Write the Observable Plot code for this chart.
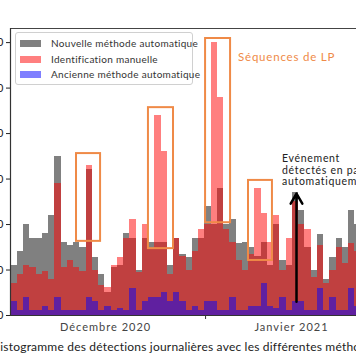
<!DOCTYPE html>
<html><head><meta charset="utf-8">
<script src="https://cdn.jsdelivr.net/npm/d3@7"></script>
<script src="https://cdn.jsdelivr.net/npm/@observablehq/plot@0.6"></script>
<style>
body{margin:0;background:#fff;}
#wrap{position:relative;width:356px;height:364px;overflow:hidden;font-family:Lato,"Open Sans",sans-serif;}
#chart{position:absolute;left:-20px;top:0;width:470px;height:336px;}
#chart svg{max-width:none !important;width:470px;height:336px;display:block;}
#chart svg g[aria-label="x-axis tick label"] text{letter-spacing:1px;}
#legend{position:absolute;left:15px;top:32px;width:178px;height:53px;box-sizing:border-box;border:1px solid #d0d0d0;border-radius:3px;background:rgba(255,255,255,0.85);}
.item{position:absolute;left:4px;height:15px;font-size:10px;color:#333;white-space:nowrap;letter-spacing:0.3px;}
.sw{position:absolute;left:0;top:4px;width:21px;height:7px;}
.lab{position:absolute;left:31px;top:0;line-height:15px;}
#lp{position:absolute;left:238px;top:50px;font-size:11.5px;color:#ef8a47;letter-spacing:0.8px;white-space:nowrap;}
#ann{position:absolute;left:282px;top:153px;font-size:10.5px;line-height:11.5px;color:#222;letter-spacing:0.7px;white-space:nowrap;}
#cap{position:absolute;left:-9px;top:339px;font-size:12px;color:#222;white-space:nowrap;letter-spacing:0.2px;}
</style></head><body>
<div id="wrap">
<div id="chart"></div>
<div id="legend"></div>
<div id="lp"></div>
<div id="ann"></div>
<div id="cap"></div>
</div>
<script>
// Daily detections (one bar per day, index 0 = first day shown)
const nouvelle = [11,14,20,17,17,18,22,35,16,15.4,16,15,32,12.7,
  9,5,10.5,11,18,17,10,17,16,16,16,11,17,13.5,
  12.7,17,17,24,20,28,20,21,15.8,16,15,13,16,11,
  20,12,11,27,23,15,10,17.8,8,12.8,17,15,23,20];
const manuelle = [7,9,11,10.5,9,9.7,8,29,10.5,12,10.5,9.7,33,10,
  6.5,6.2,11,12.7,17,21,9.5,20,14.5,44,36,9,17,13,
  10,14,19,20,60,48,19,16,12,10,13.5,28,22.4,16,
  22,10,17,25,20,19,8.4,15.4,7,10,15,11.4,15.8,14];
const ancienne = [3,1,4,1,1,2,1,4,1,1,1,1,4,3,
  1,2,1,1.5,1,6,1,3,4,4,5,3,5,3,
  1,2,1,3,3,1,1,4,1,1,2,2,7,2,
  1.5,4,1,3,3,1,1,6,1,4,1,1,6,2];
const seriesNames = ["Nouvelle méthode automatique","Identification manuelle","Ancienne méthode automatique"];
const seriesColors = ["#808080","rgba(255,0,0,0.5)","rgba(0,0,255,0.5)"];
const monthLabels = ["Décembre 2020","Janvier 2021"];
const monthLabelPos = [15.1, 44.85];
const monthStart = [31.1];
const yTicks = [0,10,20,30,40,50,60];
const lpBoxes = [
  {x1:10.45,x2:14.3,y1:16.3,y2:35.6},
  {x1:21.96,x2:25.97,y1:14.7,y2:45.7},
  {x1:31.1,x2:35.1,y1:20.4,y2:60.9},
  {x1:37.97,x2:41.8,y1:12.1,y2:29.7}
];
const eventArrow = [{x:45.65,y1:3,y2:26.8}];
const lpText = "Séquences de LP";
const annLines = ["Evénement","détectés en partie","automatiquement"];
const caption = "Histogramme des détections journalières avec les différentes méthodes";

const X0 = -0.112, X1 = 70.29, YMAX = 63.1;
const rows = arr => arr.map((v,i)=>({i, v}));
const barOpts = (fill, op) => ({x1:"i", x2:d=>d.i+1, y1:0, y2:"v", fill, fillOpacity:op, inset:0, shapeRendering:"crispEdges"});

const plot = Plot.plot({
  width: 470, height: 336,
  marginLeft: 30, marginRight: 0, marginTop: 28, marginBottom: 21,
  x: {domain:[X0, X1]},
  y: {domain:[0, YMAX]},
  style: {fontFamily:"Lato, 'Open Sans', sans-serif", fontSize:"11px", color:"#222", background:"transparent", overflow:"visible", maxWidth:"none"},
  marks: [
    Plot.rect(rows(nouvelle), barOpts("#808080", 1)),
    Plot.rect(rows(manuelle), barOpts("#ff0000", 0.5)),
    Plot.rect(rows(ancienne), barOpts("#0000ff", 0.5)),
    Plot.rect(lpBoxes, {x1:"x1", x2:"x2", y1:"y1", y2:"y2", fill:"none", stroke:"#ef8a47", strokeWidth:2}),
    Plot.arrow(eventArrow, {x1:"x", x2:"x", y1:"y1", y2:"y2", stroke:"#000", strokeWidth:2.5, headLength:7}),
    Plot.ruleY([YMAX], {stroke:"#444", strokeWidth:1.2}),
    Plot.ruleY([0], {stroke:"#333"}),
    Plot.ruleX([X0], {stroke:"#333", strokeWidth:1.2}),
    Plot.axisY({ticks:yTicks, tickSize:4, tickPadding:3, label:null, fill:"#222"}),
    Plot.axisX({ticks:monthLabelPos, tickSize:0, tickPadding:8, label:null, fill:"#444",
      tickFormat:d=>monthLabels[monthLabelPos.indexOf(d)]}),
    Plot.axisX({ticks:monthStart, tickSize:4, tickFormat:()=>"", label:null, stroke:"#333"})
  ]
});
document.getElementById("chart").appendChild(plot);

const leg = document.getElementById("legend");
seriesNames.forEach((n,i)=>{
  const it = document.createElement("div");
  it.className = "item"; it.style.top = (3 + i*15.5) + "px";
  it.innerHTML = `<div class="sw" style="background:${seriesColors[i]}"></div><div class="lab"></div>`;
  it.querySelector(".lab").textContent = n;
  leg.appendChild(it);
});
document.getElementById("lp").textContent = lpText;
document.getElementById("ann").innerHTML = annLines.map(s=>`<div>${s}</div>`).join("");
document.getElementById("cap").textContent = caption;
</script>
</body></html>
